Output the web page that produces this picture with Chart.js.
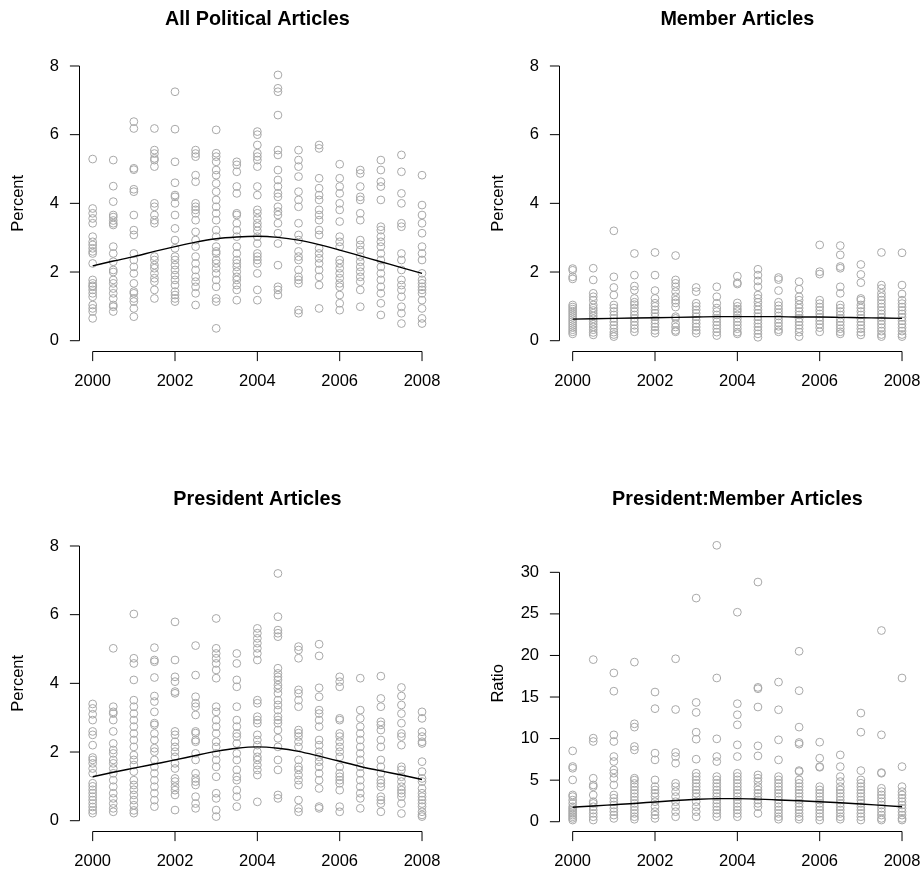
<!DOCTYPE html>
<html lang="en-US">
  <head>
    <meta charset="utf-8" />
    <title>Political articles by year</title>
    <script src="https://cdn.jsdelivr.net/npm/chart.js@4.4.0/dist/chart.umd.min.js"></script>
  </head>
  <body>
    <div class="grid">
      <div class="panel" style="left:0;top:0"><canvas id="c1" width="480" height="480"></canvas></div>
      <div class="panel" style="left:480px;top:0"><canvas id="c2" width="480" height="480"></canvas></div>
      <div class="panel" style="left:0;top:480px"><canvas id="c3" width="480" height="480"></canvas></div>
      <div class="panel" style="left:480px;top:480px"><canvas id="c4" width="480" height="480"></canvas></div>
    </div>
  </body>

  <style>
    html, body { margin: 0; padding: 0; background: #fff; overflow: hidden; }
    .grid { position: relative; width: 921px; height: 873px; overflow: hidden; }
    .panel { position: absolute; width: 480px; height: 480px; }
  </style>

  <script>
    // half-year steps, one column of points each
    const years = [2000, 2000.5, 2001, 2001.5, 2002, 2002.5, 2003, 2003.5, 2004,
                   2004.5, 2005, 2005.5, 2006, 2006.5, 2007, 2007.5, 2008];
    const yearTicks = [2000, 2002, 2004, 2006, 2008];
    const percentTicks = [0, 2, 4, 6, 8];
    const ratioTicks = [0, 5, 10, 15, 20, 25, 30];
    const titles = ["All Political Articles", "Member Articles", "President Articles", "President:Member Articles"];
    const yTitles = ["Percent", "Percent", "Percent", "Ratio"];

    const allPolitical = [
      [5.29, 3.85, 3.71, 3.56, 3.42, 3.03, 2.88, 2.79, 2.69, 2.6, 2.54, 2.25, 1.77, 1.67, 1.6, 1.57, 1.48, 1.38, 1.28, 1.04, 0.94, 0.85, 0.65],
      [5.26, 4.5, 4.05, 3.66, 3.6, 3.5, 3.42, 3.37, 2.74, 2.54, 2.3, 2.06, 2.0, 1.77, 1.67, 1.52, 1.38, 1.23, 1.04, 0.99, 0.85],
      [6.38, 6.18, 5.02, 4.98, 4.41, 4.34, 3.66, 3.22, 3.08, 2.54, 2.35, 2.15, 1.96, 1.67, 1.43, 1.38, 1.23, 1.14, 0.94, 0.7],
      [6.18, 5.55, 5.45, 5.31, 5.26, 5.07, 4.0, 3.9, 3.66, 3.51, 3.42, 2.45, 2.35, 2.2, 2.11, 1.96, 1.82, 1.72, 1.48, 1.23],
      [7.25, 6.16, 5.21, 4.6, 4.24, 4.19, 4.0, 3.66, 3.27, 2.93, 2.69, 2.45, 2.35, 2.2, 2.06, 1.91, 1.77, 1.62, 1.43, 1.33, 1.23, 1.14],
      [5.55, 5.45, 5.36, 4.82, 4.63, 4.0, 3.9, 3.81, 3.71, 3.51, 3.17, 2.93, 2.74, 2.45, 2.25, 2.06, 1.86, 1.72, 1.57, 1.38, 1.04],
      [6.14, 5.46, 5.36, 5.21, 4.97, 4.82, 4.58, 4.34, 4.1, 3.9, 3.71, 3.51, 3.22, 3.03, 2.74, 2.6, 2.54, 2.35, 2.25, 2.11, 1.96, 1.77, 1.57, 1.23, 1.14, 0.36],
      [5.21, 5.12, 4.92, 4.49, 4.29, 3.71, 3.66, 3.42, 3.22, 3.03, 2.74, 2.54, 2.35, 2.25, 2.15, 2.01, 1.86, 1.77, 1.62, 1.48, 1.18],
      [6.09, 6.0, 5.7, 5.46, 5.36, 5.26, 5.07, 4.49, 4.24, 3.81, 3.71, 3.56, 3.42, 3.32, 3.2, 3.03, 2.83, 2.54, 2.45, 2.35, 2.25, 1.96, 1.48, 1.18],
      [7.74, 7.35, 7.25, 6.57, 5.55, 5.41, 4.97, 4.68, 4.49, 4.29, 4.19, 3.9, 3.76, 3.66, 3.42, 3.13, 2.83, 2.2, 1.57, 1.48, 1.33],
      [5.55, 5.26, 5.07, 4.78, 4.34, 4.1, 3.9, 3.42, 3.08, 2.93, 2.6, 2.45, 2.35, 2.06, 1.86, 1.77, 1.67, 0.89, 0.8],
      [5.7, 5.6, 4.73, 4.44, 4.24, 4.1, 3.81, 3.66, 3.51, 3.22, 3.08, 2.69, 2.54, 2.4, 2.25, 2.06, 1.86, 1.62, 0.94],
      [5.14, 4.73, 4.49, 4.29, 4.0, 3.81, 3.47, 3.03, 2.88, 2.74, 2.35, 2.25, 2.11, 1.96, 1.82, 1.67, 1.57, 1.33, 1.09, 0.89],
      [4.97, 4.87, 4.49, 4.19, 4.1, 3.71, 3.51, 2.93, 2.79, 2.64, 2.45, 2.3, 2.15, 2.01, 1.86, 1.72, 1.48, 0.99],
      [5.26, 4.97, 4.63, 4.49, 4.1, 3.32, 3.22, 3.03, 2.88, 2.74, 2.54, 2.35, 2.15, 1.96, 1.77, 1.57, 1.38, 1.09, 0.75],
      [5.41, 4.92, 4.29, 4.0, 3.42, 3.32, 2.54, 2.35, 2.06, 1.77, 1.62, 1.48, 1.28, 0.99, 0.8, 0.5],
      [4.82, 3.95, 3.66, 3.42, 3.13, 2.74, 2.54, 2.35, 1.96, 1.77, 1.67, 1.57, 1.48, 1.38, 1.18, 0.94, 0.65, 0.5]
    ];
    const allPoliticalFit = [2.18, 2.32, 2.45, 2.6, 2.74, 2.87, 2.97, 3.02, 3.04, 3.01, 2.93, 2.8, 2.64, 2.47, 2.3, 2.13, 1.96];

    const member = [
      [2.1, 2.05, 1.86, 1.8, 1.04, 0.98, 0.92, 0.86, 0.8, 0.74, 0.68, 0.62, 0.56, 0.5, 0.44, 0.38, 0.32, 0.26, 0.2],
      [2.11, 1.77, 1.38, 1.28, 1.18, 1.04, 0.95, 0.88, 0.8, 0.72, 0.64, 0.56, 0.48, 0.4, 0.32, 0.24, 0.17],
      [3.2, 1.86, 1.55, 1.33, 1.04, 0.95, 0.85, 0.75, 0.65, 0.55, 0.45, 0.35, 0.25, 0.18, 0.12],
      [2.54, 1.91, 1.59, 1.47, 1.23, 1.12, 1.05, 0.95, 0.85, 0.75, 0.65, 0.55, 0.45, 0.35, 0.26],
      [2.57, 1.91, 1.46, 1.23, 1.09, 1.0, 0.9, 0.8, 0.7, 0.6, 0.5, 0.4, 0.3, 0.22],
      [2.48, 1.77, 1.67, 1.57, 1.43, 1.28, 1.18, 1.1, 0.98, 0.7, 0.65, 0.5, 0.4, 0.3, 0.26],
      [1.55, 1.43, 1.09, 1.0, 0.9, 0.8, 0.7, 0.6, 0.5, 0.4, 0.3, 0.22],
      [1.57, 1.28, 1.09, 0.95, 0.85, 0.75, 0.65, 0.55, 0.45, 0.35, 0.25, 0.15],
      [1.88, 1.69, 1.65, 1.1, 1.0, 0.92, 0.85, 0.75, 0.65, 0.55, 0.45, 0.35, 0.25, 0.2],
      [2.08, 1.91, 1.74, 1.57, 1.33, 1.23, 1.12, 1.0, 0.9, 0.8, 0.7, 0.6, 0.5, 0.4, 0.3, 0.2, 0.1],
      [1.84, 1.78, 1.46, 1.12, 1.02, 0.92, 0.82, 0.72, 0.62, 0.52, 0.42, 0.32, 0.26],
      [1.72, 1.5, 1.28, 1.18, 1.05, 0.95, 0.85, 0.75, 0.65, 0.55, 0.45, 0.35, 0.25, 0.12],
      [2.79, 2.01, 1.94, 1.18, 1.08, 0.98, 0.88, 0.78, 0.68, 0.58, 0.48, 0.38, 0.26],
      [2.77, 2.5, 2.16, 2.11, 1.57, 1.38, 1.04, 0.95, 0.85, 0.75, 0.65, 0.55, 0.45, 0.35, 0.26, 0.2],
      [2.22, 1.93, 1.69, 1.23, 1.18, 1.04, 0.95, 0.85, 0.75, 0.65, 0.55, 0.45, 0.35, 0.25, 0.17],
      [2.57, 1.62, 1.52, 1.38, 1.28, 1.18, 1.08, 0.98, 0.88, 0.78, 0.68, 0.58, 0.48, 0.38, 0.28, 0.18, 0.12],
      [2.56, 1.62, 1.36, 1.18, 1.08, 0.98, 0.88, 0.78, 0.68, 0.58, 0.48, 0.38, 0.28, 0.18, 0.12]
    ];
    const memberFit = [0.63, 0.64, 0.65, 0.66, 0.67, 0.68, 0.69, 0.7, 0.7, 0.7, 0.7, 0.69, 0.69, 0.68, 0.67, 0.66, 0.65];

    const president = [
      [3.4, 3.27, 3.1, 2.93, 2.6, 2.5, 2.2, 1.84, 1.77, 1.67, 1.52, 1.38, 1.09, 1.0, 0.9, 0.8, 0.7, 0.6, 0.5, 0.4, 0.3, 0.22],
      [5.02, 3.32, 3.17, 3.12, 2.93, 2.6, 2.25, 2.06, 1.96, 1.77, 1.67, 1.52, 1.38, 1.18, 0.99, 0.8, 0.65, 0.5, 0.36, 0.26],
      [6.02, 4.73, 4.58, 4.1, 3.51, 3.32, 3.12, 2.93, 2.74, 2.54, 2.35, 2.15, 1.91, 1.77, 1.62, 1.43, 1.18, 1.04, 0.9, 0.75, 0.6, 0.45, 0.3, 0.22],
      [5.04, 4.68, 4.63, 4.17, 3.63, 3.47, 3.17, 2.84, 2.79, 2.54, 2.35, 2.11, 2.01, 1.77, 1.57, 1.38, 1.18, 0.99, 0.8, 0.6, 0.41],
      [5.79, 4.68, 4.19, 4.05, 3.76, 3.71, 2.6, 2.5, 2.3, 2.15, 2.01, 1.86, 1.67, 1.52, 1.23, 1.14, 0.99, 0.89, 0.75, 0.31],
      [5.1, 4.24, 3.61, 3.42, 3.32, 3.08, 2.6, 2.55, 2.35, 2.3, 1.96, 1.77, 1.38, 1.23, 1.14, 1.04, 0.7, 0.5, 0.36],
      [5.89, 5.02, 4.87, 4.73, 4.58, 4.39, 4.15, 3.32, 3.17, 2.93, 2.74, 2.54, 2.3, 2.15, 1.96, 1.77, 1.57, 1.28, 0.8, 0.65, 0.31, 0.12],
      [4.87, 4.58, 4.1, 3.9, 3.32, 2.93, 2.74, 2.54, 2.45, 2.25, 1.96, 1.77, 1.48, 1.28, 1.18, 0.89, 0.7, 0.41],
      [5.6, 5.46, 5.31, 5.17, 5.02, 4.87, 4.68, 3.51, 3.42, 3.03, 2.93, 2.84, 2.5, 2.35, 2.2, 2.01, 1.86, 1.77, 1.62, 1.48, 1.33, 0.55],
      [7.2, 5.94, 5.55, 5.46, 5.36, 4.44, 4.29, 4.19, 4.1, 3.95, 3.85, 3.71, 3.51, 3.37, 3.22, 3.03, 2.93, 2.84, 2.64, 2.4, 2.15, 1.77, 1.48, 0.75, 0.65],
      [5.07, 4.97, 4.73, 3.81, 3.71, 3.51, 3.32, 2.64, 2.55, 2.45, 2.3, 2.15, 1.77, 1.57, 1.48, 1.33, 1.18, 1.04, 0.6, 0.36, 0.26],
      [5.14, 4.8, 3.87, 3.61, 3.22, 3.12, 2.93, 2.74, 2.35, 2.2, 2.01, 1.86, 1.72, 1.57, 1.38, 1.18, 0.94, 0.41, 0.36],
      [4.19, 4.05, 3.9, 2.98, 2.93, 2.54, 2.45, 2.3, 2.15, 2.01, 1.86, 1.57, 1.38, 1.28, 1.18, 1.09, 0.89, 0.41, 0.26],
      [4.15, 3.22, 2.98, 2.74, 2.54, 2.35, 2.15, 1.96, 1.77, 1.57, 1.38, 1.18, 0.99, 0.8, 0.65, 0.36],
      [4.21, 3.56, 3.32, 2.88, 2.79, 2.64, 2.35, 2.15, 1.77, 1.57, 1.38, 1.18, 1.09, 0.99, 0.7, 0.6, 0.5, 0.26],
      [3.88, 3.63, 3.37, 3.12, 2.84, 2.54, 2.45, 2.2, 1.57, 1.48, 1.28, 1.14, 0.99, 0.89, 0.8, 0.7, 0.5, 0.21],
      [3.17, 2.98, 2.59, 2.45, 2.3, 2.25, 1.72, 1.43, 1.23, 1.14, 0.94, 0.8, 0.7, 0.6, 0.5, 0.41, 0.26, 0.17, 0.12]
    ];
    const presidentFit = [1.28, 1.41, 1.53, 1.65, 1.77, 1.9, 2.02, 2.11, 2.15, 2.11, 2.02, 1.88, 1.73, 1.58, 1.45, 1.33, 1.2];

    const ratio = [
      [8.52, 6.64, 6.43, 5.03, 3.22, 3.02, 2.6, 2.2, 1.8, 1.6, 1.4, 1.2, 1.0, 0.8, 0.6, 0.4, 0.2],
      [19.5, 10.05, 9.65, 5.23, 4.42, 4.22, 3.22, 2.41, 2.2, 1.8, 1.4, 1.0, 0.6, 0.2],
      [17.9, 15.7, 10.45, 9.65, 7.84, 7.24, 6.23, 5.83, 5.23, 4.42, 3.22, 2.82, 2.41, 2.01, 1.61, 1.21, 0.8, 0.4],
      [19.2, 11.78, 11.38, 9.05, 8.64, 5.23, 5.0, 4.6, 4.2, 3.8, 3.4, 3.0, 2.6, 2.2, 1.8, 1.4, 1.0, 0.6, 0.3],
      [15.6, 13.6, 8.25, 7.44, 5.03, 4.22, 3.82, 3.42, 3.02, 2.41, 1.81, 1.21, 0.8, 0.4],
      [19.6, 13.5, 8.33, 7.84, 7.04, 4.62, 4.22, 3.62, 3.02, 2.41, 1.81, 1.21, 0.6],
      [26.9, 14.35, 13.15, 10.77, 9.93, 7.52, 5.83, 5.43, 5.03, 4.62, 4.22, 3.82, 3.42, 3.02, 2.41, 1.81, 1.21, 0.6],
      [33.25, 17.29, 9.97, 7.84, 7.24, 5.43, 5.03, 4.62, 4.22, 3.82, 3.42, 3.02, 2.61, 2.21, 1.81, 1.41, 1.0, 0.6],
      [25.2, 14.2, 12.87, 11.66, 9.25, 7.84, 5.83, 5.43, 5.03, 4.62, 4.22, 3.82, 3.42, 3.02, 2.61, 2.21, 1.81, 1.41, 1.0, 0.6],
      [28.83, 16.16, 16.0, 13.8, 9.13, 7.92, 5.63, 5.23, 4.83, 4.22, 3.82, 3.42, 3.02, 2.61, 2.21, 1.81, 1.0],
      [16.8, 13.47, 9.85, 7.44, 5.43, 5.03, 4.62, 4.22, 3.82, 3.42, 3.02, 2.61, 2.21, 1.81, 1.41, 1.0, 0.6, 0.3],
      [20.5, 15.76, 11.38, 9.53, 9.33, 6.15, 6.03, 5.03, 4.62, 4.22, 3.82, 3.42, 3.02, 2.61, 2.21, 1.81, 1.41, 1.0, 0.6, 0.3],
      [9.57, 7.64, 6.63, 6.55, 4.22, 3.82, 3.42, 3.02, 2.61, 2.21, 1.81, 1.41, 1.0, 0.6, 0.2],
      [8.04, 6.63, 5.43, 4.83, 4.22, 3.82, 3.42, 3.02, 2.61, 2.21, 1.81, 1.41, 1.0, 0.6, 0.3],
      [13.07, 10.77, 6.15, 5.03, 4.62, 4.22, 3.82, 3.42, 3.02, 2.61, 2.21, 1.81, 1.41, 1.0, 0.6, 0.2],
      [23.0, 10.45, 5.91, 5.83, 4.02, 3.62, 3.22, 2.82, 2.41, 2.01, 1.61, 1.21, 0.8, 0.4, 0.2],
      [17.29, 6.63, 4.22, 3.62, 3.22, 2.82, 2.41, 2.01, 1.61, 1.21, 0.8, 0.4, 0.2]
    ];
    const ratioFit = [1.74, 1.9, 2.05, 2.2, 2.38, 2.55, 2.7, 2.78, 2.78, 2.72, 2.62, 2.52, 2.41, 2.28, 2.13, 1.97, 1.81];

    const FONT = '"Liberation Sans", Arial, Helvetica, sans-serif';

    // R style axes: detached lines that only span the ticks
    const rAxes = {
      id: 'rAxes',
      afterDraw(chart, args, opts) {
        const ctx = chart.ctx;
        const a = chart.chartArea;
        const xs = chart.scales.x, ys = chart.scales.y;
        const left = Math.floor(a.left) + 0.5;
        const bottom = Math.floor(a.bottom) + 0.5;
        ctx.save();
        ctx.strokeStyle = '#000';
        ctx.fillStyle = '#000';
        ctx.lineWidth = 1;
        ctx.font = '16.5px ' + FONT;

        // x axis
        const x0 = xs.getPixelForValue(yearTicks[0]);
        const x1 = xs.getPixelForValue(yearTicks[yearTicks.length - 1]);
        ctx.beginPath();
        ctx.moveTo(x0, bottom); ctx.lineTo(x1, bottom);
        yearTicks.forEach(t => {
          const px = xs.getPixelForValue(t);
          ctx.moveTo(px, bottom); ctx.lineTo(px, bottom + 9.6);
        });
        ctx.stroke();
        ctx.textAlign = 'center';
        ctx.textBaseline = 'middle';
        yearTicks.forEach(t => ctx.fillText(String(t), xs.getPixelForValue(t), a.bottom + 30));

        // y axis
        const ticks = opts.yTicks;
        const y0 = ys.getPixelForValue(ticks[0]);
        const y1 = ys.getPixelForValue(ticks[ticks.length - 1]);
        ctx.beginPath();
        ctx.moveTo(left, y0); ctx.lineTo(left, y1);
        ticks.forEach(t => {
          const py = ys.getPixelForValue(t);
          ctx.moveTo(left, py); ctx.lineTo(left - 9.6, py);
        });
        ctx.stroke();
        ctx.textAlign = 'right';
        ticks.forEach(t => ctx.fillText(String(t), a.left - 20.5, ys.getPixelForValue(t)));

        // y title
        ctx.save();
        ctx.translate(a.left - 61.5, (a.top + a.bottom) / 2);
        ctx.rotate(-Math.PI / 2);
        ctx.textAlign = 'center';
        ctx.fillText(opts.yTitle, 0, 0);
        ctx.restore();

        // main title
        ctx.font = 'bold 19.8px ' + FONT;
        ctx.textAlign = 'center';
        ctx.fillText(opts.title, (a.left + a.right) / 2, 20);
        ctx.restore();
      }
    };

    function makeChart(id, cols, fit, yMin, yMax, yTicks, title, yTitle) {
      const pts = [];
      cols.forEach((col, i) => col.forEach(v => pts.push({ x: years[i], y: v })));
      new Chart(document.getElementById(id), {
        type: 'scatter',
        data: {
          datasets: [
            {
              type: 'line',
              data: years.map((yr, i) => ({ x: yr, y: fit[i] })),
              borderColor: '#000',
              borderWidth: 1.4,
              pointRadius: 0,
              cubicInterpolationMode: 'monotone',
              fill: false,
              order: 0
            },
            {
              data: pts,
              pointStyle: 'circle',
              pointRadius: 3.9,
              pointBorderWidth: 1,
              pointBackgroundColor: 'rgba(0,0,0,0)',
              pointBorderColor: '#a8a8a8',
              order: 1
            }
          ]
        },
        options: {
          responsive: false,
          animation: false,
          layout: { padding: { left: 79.5, top: 55, right: 480 - 435.2, bottom: 480 - 351.7 } },
          scales: {
            x: { type: 'linear', min: 1999.68, max: 2008.32, display: false },
            y: { type: 'linear', min: yMin, max: yMax, display: false }
          },
          plugins: {
            legend: { display: false },
            tooltip: { enabled: false },
            rAxes: { yTicks: yTicks, title: title, yTitle: yTitle }
          }
        },
        plugins: [rAxes]
      });
    }

    makeChart('c1', allPolitical, allPoliticalFit, -0.32, 8.32, percentTicks, titles[0], yTitles[0]);
    makeChart('c2', member, memberFit, -0.32, 8.32, percentTicks, titles[1], yTitles[1]);
    makeChart('c3', president, presidentFit, -0.32, 8.32, percentTicks, titles[2], yTitles[2]);
    makeChart('c4', ratio, ratioFit, -1.2, 34.49, ratioTicks, titles[3], yTitles[3]);
  </script>
</html>
